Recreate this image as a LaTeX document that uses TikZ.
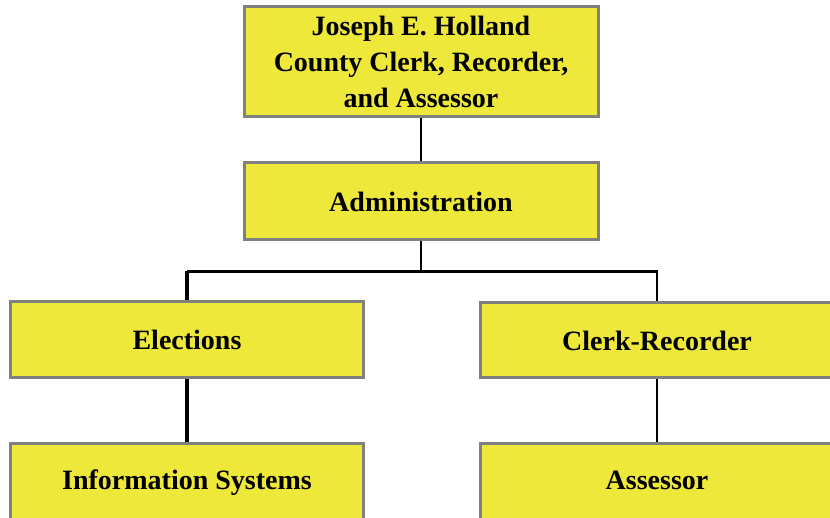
\documentclass[tikz,border=0pt]{standalone}
\usepackage{fontspec}
\setmainfont{Liberation Serif}
\definecolor{boxfill}{HTML}{EEE83A}
\definecolor{boxline}{HTML}{808080}
\begin{document}
\begin{tikzpicture}[x=1pt,y=-1pt,
  orgbox/.style={draw=boxline, fill=boxfill, line width=3pt, rectangle,
    minimum width=354pt, inner sep=0pt, font=\fontsize{28}{36}\selectfont\bfseries, align=center},
  thinline/.style={line width=2.5pt, black},
  thickline/.style={line width=4pt, black}]
\useasboundingbox (0,0) rectangle (830,518);
\clip (0,0) rectangle (830,518);
\node[orgbox, minimum height=110pt] (top) at (421,62) {Joseph E. Holland\\County Clerk, Recorder,\\and Assessor};
\node[orgbox, minimum height=77pt] (admin) at (421,201.5) {Administration};
\node[orgbox, minimum width=353pt, minimum height=76pt] (elec) at (187,340) {Elections};
\node[orgbox, minimum width=353pt, minimum height=75pt] (clerk) at (657,340.5) {Clerk-Recorder};
\node[orgbox, minimum width=353pt, anchor=north, text height=46pt, text depth=40pt] (info) at (187,442) {Information Systems};
\node[orgbox, minimum width=353pt, anchor=north, text height=46pt, text depth=40pt] (assess) at (657,442) {Assessor};
\coordinate (bus) at (421,271.5);
\draw[thinline] (top.south) -- (admin.north);
\draw[thinline] (admin.south) -- (bus);
\draw[thinline] (elec.north|-bus) -- (clerk.north|-bus) -- (clerk.north);
\draw[thickline] (elec.north|-bus) -- (elec.north);
\draw[thickline] (elec.south) -- (info.north);
\draw[thinline] (clerk.south) -- (assess.north);
\end{tikzpicture}
\end{document}
